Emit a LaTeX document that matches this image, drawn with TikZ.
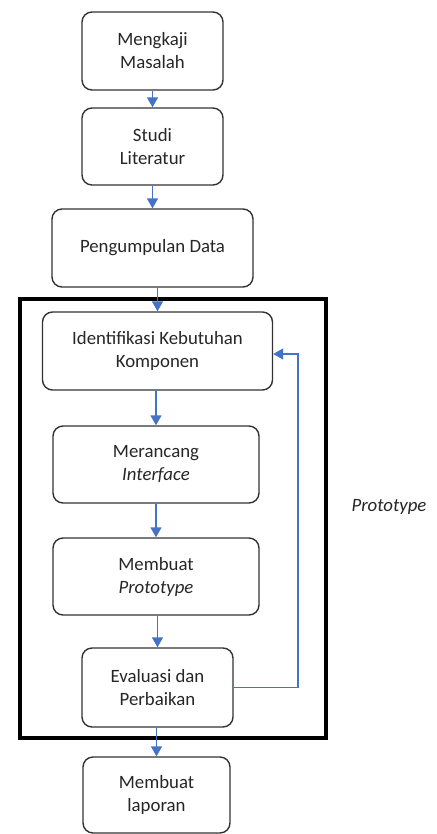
\documentclass[tikz,border=0pt]{standalone}
\usepackage{fontspec}
\setmainfont{Carlito}
\usepackage{tikz}
\usetikzlibrary{arrows.meta}
\definecolor{flowblue}{HTML}{4472C4}

\begin{document}
\begin{tikzpicture}[x=1pt,y=-1pt,
	box/.style={draw=black!80, line width=1.4pt, rounded corners=10pt, align=center,
		inner sep=0pt, text=black!85, font=\fontsize{18.8}{23}\selectfont},
	flow/.style={draw=flowblue, line width=1.6pt, -{Triangle[width=11pt,length=10pt]}},
	back/.style={draw=flowblue, line width=1.1pt, -{Triangle[width=11pt,length=10pt]}}]
	\useasboundingbox (0,0) rectangle (436,834);

	\node[box, minimum width=141, minimum height=78] (mk) at (152.5,51) {Mengkaji\\Masalah};
	\node[box, minimum width=141, minimum height=77] (sl) at (152.5,146.5) {Studi\\Literatur};
	\node[box, minimum width=201, minimum height=78] (pd) at (152.5,248) {Pengumpulan Data};

	\draw[black, line width=4.5pt] (20,299) rectangle (326,738);

	\node[box, minimum width=230, minimum height=78] (ik) at (157.5,351) {Identifikasi Kebutuhan\\Komponen};
	\node[box, minimum width=206, minimum height=77] (mi) at (156,464.5) {Merancang\\\textit{Interface}};
	\node[box, minimum width=206, minimum height=77] (mp) at (156,576.5) {Membuat\\\textit{Prototype}};
	\node[box, minimum width=151, minimum height=79] (ep) at (157.5,687.5) {Evaluasi dan\\Perbaikan};
	\node[box, minimum width=147, minimum height=76] (ml) at (156.5,795) {Membuat\\laporan};

	\node[text=black!85, font=\fontsize{18.8}{23}\selectfont\itshape] (pt) at (389,507) {Prototype};

	\draw[flow] (mk) -- (sl);
	\draw[flow] (sl) -- (pd);
	\draw[flow] (pd.south -| ik.north) -- (ik.north);
	\draw[flow] (ik.south -| mi.north) -- (mi.north);
	\draw[flow] (mi) -- (mp);
	\draw[flow] (mp.south -| ep.north) -- (ep.north);
	\draw[flow] (ep.south -| ml.north) -- (ml.north);

	\coordinate (fb) at (298,354);
	\draw[back] (ep.east) -| (fb) -- (ik.east |- fb);
\end{tikzpicture}
\end{document}
